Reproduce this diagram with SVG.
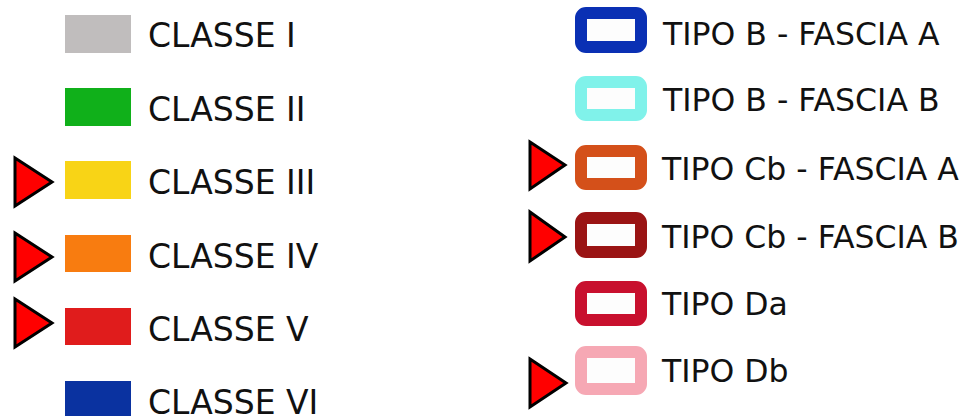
<svg xmlns="http://www.w3.org/2000/svg" width="974" height="416" viewBox="0 0 974 416">
<style>
text{font-family:"DejaVu Sans","Verdana",sans-serif;fill:#111}
.l{font-size:33px}
.r{font-size:31.5px}
.arr{fill:#ff0000;stroke:#000;stroke-width:3;stroke-linejoin:miter}
.box{fill:#fdfdfd;stroke-width:12}
</style>
<rect width="974" height="416" fill="#fff"/>
<g id="classe1"><rect x="65" y="15" width="66" height="38" fill="#c0bdbd"/><text class="l" x="148" y="47">CLASSE I</text></g>
<g id="classe2"><rect x="65" y="88" width="66" height="38" fill="#10b01a"/><text class="l" x="148" y="121">CLASSE II</text></g>
<g id="classe3"><rect x="65" y="161" width="66" height="38" fill="#f8d416"/><text class="l" x="148" y="194">CLASSE III</text></g>
<g id="classe4"><rect x="65" y="235" width="66" height="37" fill="#f87c10"/><text class="l" x="148" y="268">CLASSE IV</text></g>
<g id="classe5"><rect x="65" y="308" width="66" height="37" fill="#e01c1c"/><text class="l" x="148" y="341">CLASSE V</text></g>
<g id="classe6"><rect x="65" y="381" width="66" height="40" fill="#0a32a0"/><text class="l" x="148" y="414">CLASSE VI</text></g>

<g id="tipoBA"><rect class="box" x="581" y="13" width="60" height="34" rx="5" stroke="#0a30b4"/><text class="r" x="663" y="45">TIPO B - FASCIA A</text></g>
<g id="tipoBB"><rect class="box" x="581" y="82" width="60" height="33" rx="5" stroke="#80f2ea"/><text class="r" x="663" y="111">TIPO B - FASCIA B</text></g>
<g id="tipoCbA"><rect class="box" x="581" y="151" width="60" height="33" rx="5" stroke="#d4501a"/><text class="r" x="662" y="180">TIPO Cb - FASCIA A</text></g>
<g id="tipoCbB"><rect class="box" x="581" y="218" width="60" height="34" rx="5" stroke="#9a1414"/><text class="r" x="662" y="248">TIPO Cb - FASCIA B</text></g>
<g id="tipoDa"><rect class="box" x="581" y="287" width="60" height="33" rx="5" stroke="#c8102e"/><text class="r" x="662" y="315">TIPO Da</text></g>
<g id="tipoDb"><rect class="box" x="581" y="352" width="60" height="37" rx="5" stroke="#f6a8b4"/><text class="r" x="662" y="382">TIPO Db</text></g>

<g id="connectors">
<polygon class="arr" points="15,158 52,182 15,206"/>
<polygon class="arr" points="15,233 52,257 15,281"/>
<polygon class="arr" points="15,299 52,323 15,347"/>
<polygon class="arr" points="530,142 565,165 530,189"/>
<polygon class="arr" points="530,212 565,237 530,261"/>
<polygon class="arr" points="530,359 566,383 530,407"/>
</g>
</svg>
